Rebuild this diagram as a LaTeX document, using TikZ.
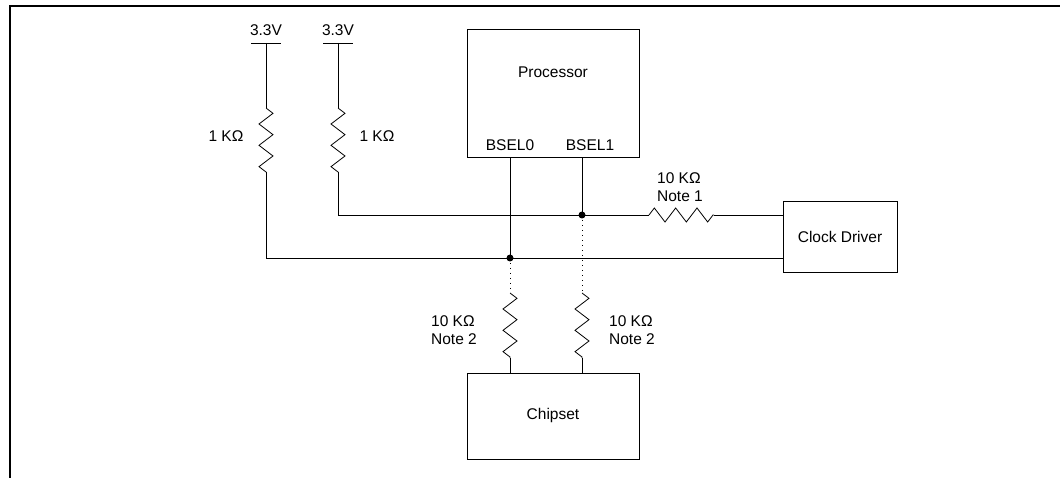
\documentclass[tikz,border=0pt]{standalone}
\usepackage{fontspec}
\setmainfont{Liberation Sans}
\usetikzlibrary{calc, decorations.pathmorphing}
\tikzset{wire/.style = {line width=0.8pt}}
\tikzset{resistor/.style = {wire, decorate, decoration={zigzag, segment length=21.33pt, amplitude=7pt}}}
\tikzset{box/.style = {draw, line width=0.8pt, inner sep=0pt}}
\tikzset{lbl/.style = {font=\fontsize{15.5}{18}\selectfont, inner sep=0pt, align=left}}
\tikzset{jdot/.style = {circle, fill, inner sep=0pt, minimum size=7pt}}
\tikzset{dots/.style = {wire, dash pattern=on 1pt off 4pt}}

\begin{document}
\begin{tikzpicture}[x=1pt, y=-1pt]
\useasboundingbox (0,0) rectangle (1060,478);
\draw [line width=2pt] (10,478) -- (10,6) -- (1060,6);
\node [box, minimum width=172pt, minimum height=128pt] (proc) at (553,93) {};
\node [box, minimum width=114pt, minimum height=71pt] (clk) at (840,236.5) {};
\node [box, minimum width=172pt, minimum height=86pt] (chip) at (553,416) {};
\node [lbl] (proctxt) at (553,72) {Processor};
\node [lbl] (bsel0) at (510,145) {BSEL0};
\node [lbl] (bsel1) at (590,145) {BSEL1};
\node [lbl] (clktxt) at (clk) {Clock Driver};
\node [lbl] (chiptxt) at (553,415) {Chipset};
\coordinate (v1) at (266,43);
\coordinate (v2) at (338,43);
\coordinate (r1a) at (266,108);
\coordinate (r1b) at (266,172);
\coordinate (r2a) at (338,108);
\coordinate (r2b) at (338,172);
\coordinate (j0) at (510,258);
\coordinate (j1) at (582,215);
\coordinate (r3a) at (649,215);
\coordinate (r3b) at (714,215);
\coordinate (r4a) at (510,293);
\coordinate (r4b) at (510,358);
\coordinate (r5a) at (582,293);
\coordinate (r5b) at (582,358);
\node [lbl] (vcc1) at (266,30) {3.3V};
\node [lbl] (vcc2) at (338,30) {3.3V};
\draw [wire] ([xshift=-15pt]v1) -- ([xshift=15pt]v1);
\draw [wire] ([xshift=-15pt]v2) -- ([xshift=15pt]v2);
\node [lbl] (rl1) at (226,136) {1 KΩ};
\node [lbl] (rl2) at (377,136) {1 KΩ};
\node [lbl] (rl3) at (680,187) {10 KΩ\\Note 1};
\node [lbl] (rl4) at (454,330) {10 KΩ\\Note 2};
\node [lbl] (rl5) at (632,330) {10 KΩ\\Note 2};
\draw [wire] (v1) -- (r1a);
\draw [resistor] (r1a) -- (r1b);
\draw [wire] (r1b) |- (j0 -| clk.west);
\draw [wire] (v2) -- (r2a);
\draw [resistor] (r2a) -- (r2b);
\draw [wire] (r2b) |- (r3a);
\draw [resistor] (r3a) -- (r3b);
\draw [wire] (r3b) -- (j1 -| clk.west);
\draw [wire] (proc.south -| j0) -- (j0);
\draw [wire] (proc.south -| j1) -- (j1);
\draw [dots] (j0) -- (r4a);
\draw [dots] (j1) -- (r5a);
\draw [resistor] (r4a) -- (r4b);
\draw [resistor] (r5a) -- (r5b);
\draw [wire] (r4b) -- (chip.north -| r4b);
\draw [wire] (r5b) -- (chip.north -| r5b);
\node [jdot] (d0) at (j0) {};
\node [jdot] (d1) at (j1) {};
\end{tikzpicture}
\end{document}
